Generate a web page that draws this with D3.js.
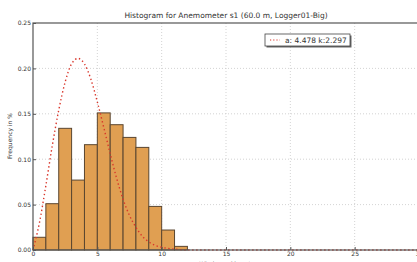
<!DOCTYPE html>
<html>
<head>
<meta charset="utf-8">
<script src="https://cdn.jsdelivr.net/npm/d3@7"></script>
<style>
  body { margin: 0; background: #fff; }
  text { font-family: "DejaVu Sans", sans-serif; fill: #333; }
</style>
</head>
<body>
<div id="chart"></div>
<script>
  // histogram bins (m/s) and frequencies
  var binStart = [0, 1, 2, 3, 4, 5, 6, 7, 8, 9, 10, 11];
  var freq = [0.014, 0.051, 0.134, 0.077, 0.116, 0.151, 0.138, 0.124, 0.113, 0.048, 0.022, 0.004];

  // fitted curve
  var fitX = [0, 0.5, 1, 1.5, 2, 2.5, 3, 3.5, 4, 4.5, 5, 5.5, 6, 6.5, 7, 7.5, 8, 8.5, 9, 9.5, 10, 11, 12, 15, 20, 25, 30];
  var fitY = [0, 0.030, 0.071, 0.115, 0.154, 0.185, 0.205, 0.211, 0.205, 0.188, 0.163, 0.135, 0.106, 0.079, 0.056, 0.038, 0.025, 0.015, 0.009, 0.005, 0.003, 0.001, 0, 0, 0, 0, 0];

  var xTicks = [0, 5, 10, 15, 20, 25, 30];
  var yTicks = [0, 0.05, 0.10, 0.15, 0.20, 0.25];
  var legendText = "a: 4.478 k:2.297";

  var W = 417, H = 262;
  var margin = {top: 23, right: 0, bottom: 12, left: 33},
      width = 386,
      height = H - margin.top - margin.bottom - 0;

  var svg = d3.select("#chart").append("svg")
      .attr("width", W)
      .attr("height", H);

  var g = svg.append("g")
      .attr("transform", "translate(" + margin.left + "," + margin.top + ")");

  var x = d3.scaleLinear().domain([0, 30]).range([0, width]);
  var y = d3.scaleLinear().domain([0, 0.25]).range([227, 0]);

  // grid
  g.append("g").selectAll("line.gx")
    .data(xTicks.slice(1, -1)).enter().append("line")
      .attr("x1", d => x(d)).attr("x2", d => x(d))
      .attr("y1", 0).attr("y2", y(0))
      .attr("stroke", "#c8c8c8").attr("stroke-width", 0.8)
      .attr("stroke-dasharray", "1,2");
  g.append("g").selectAll("line.gy")
    .data(yTicks.slice(1, -1)).enter().append("line")
      .attr("x1", 0).attr("x2", width)
      .attr("y1", d => y(d)).attr("y2", d => y(d))
      .attr("stroke", "#c8c8c8").attr("stroke-width", 0.8)
      .attr("stroke-dasharray", "1,2");

  // bars
  g.append("g").selectAll("rect")
    .data(binStart).enter().append("rect")
      .attr("x", d => x(d))
      .attr("y", (d, i) => y(freq[i]))
      .attr("width", d => x(d + 1) - x(d))
      .attr("height", (d, i) => y(0) - y(freq[i]))
      .attr("fill", "#e09f52")
      .attr("stroke", "#5a4630")
      .attr("stroke-width", 1);

  // fitted curve
  var line = d3.line()
      .x(d => x(d[0]))
      .y(d => y(d[1]))
      .curve(d3.curveMonotoneX);
  g.append("path")
    .datum(fitX.map((v, i) => [v, fitY[i]]))
    .attr("d", line)
    .attr("fill", "none")
    .attr("stroke", "#d9362b")
    .attr("stroke-width", 1.4)
    .attr("stroke-dasharray", "1.4,2.6");

  // frame
  g.append("rect")
    .attr("x", 0).attr("y", 0)
    .attr("width", width).attr("height", y(0))
    .attr("fill", "none")
    .attr("stroke", "#555").attr("stroke-width", 1.2);

  // axes
  var xAxis = g.append("g")
    .attr("transform", "translate(0," + y(0) + ")")
    .call(d3.axisBottom(x).tickValues(xTicks).tickSize(-3).tickFormat(d3.format("d")));
  var yAxis = g.append("g")
    .call(d3.axisLeft(y).tickValues(yTicks).tickSize(-3).tickFormat(d3.format(".2f")));
  [xAxis, yAxis].forEach(a => {
    a.select(".domain").remove();
    a.selectAll("line").attr("stroke", "#555");
    a.selectAll("text").style("font-size", "6px").attr("fill", "#444");
  });
  xAxis.selectAll("text").attr("dy", "0.3em").attr("y", 4);
  yAxis.selectAll("text").attr("x", -2);

  // title and labels
  svg.append("text")
    .attr("x", margin.left + width / 2).attr("y", 18)
    .attr("text-anchor", "middle")
    .style("font-size", "7.5px")
    .text("Histogram for Anemometer s1 (60.0 m, Logger01-Big)");

  svg.append("text")
    .attr("transform", "translate(12,136) rotate(-90)")
    .attr("text-anchor", "middle")
    .style("font-size", "6px")
    .text("Frequency in %");

  svg.append("text")
    .attr("x", margin.left + width / 2).attr("y", 266)
    .attr("text-anchor", "middle")
    .style("font-size", "6px")
    .text("Windspeed in m/s");

  // legend
  var lg = svg.append("g").attr("transform", "translate(265,34)");
  lg.append("rect").attr("x", 1.5).attr("y", 1.5).attr("width", 85).attr("height", 12)
    .attr("fill", "#666");
  lg.append("rect").attr("x", 0).attr("y", 0).attr("width", 85).attr("height", 12)
    .attr("fill", "#fff").attr("stroke", "#444").attr("stroke-width", 0.8);
  lg.append("line").attr("x1", 5).attr("x2", 15).attr("y1", 6).attr("y2", 6)
    .attr("stroke", "#d9362b").attr("stroke-width", 1.2)
    .attr("stroke-dasharray", "1.2,2");
  lg.append("text").attr("x", 20).attr("y", 8.5)
    .style("font-size", "7.5px").attr("fill", "#222")
    .text(legendText);
</script>
</body>
</html>
